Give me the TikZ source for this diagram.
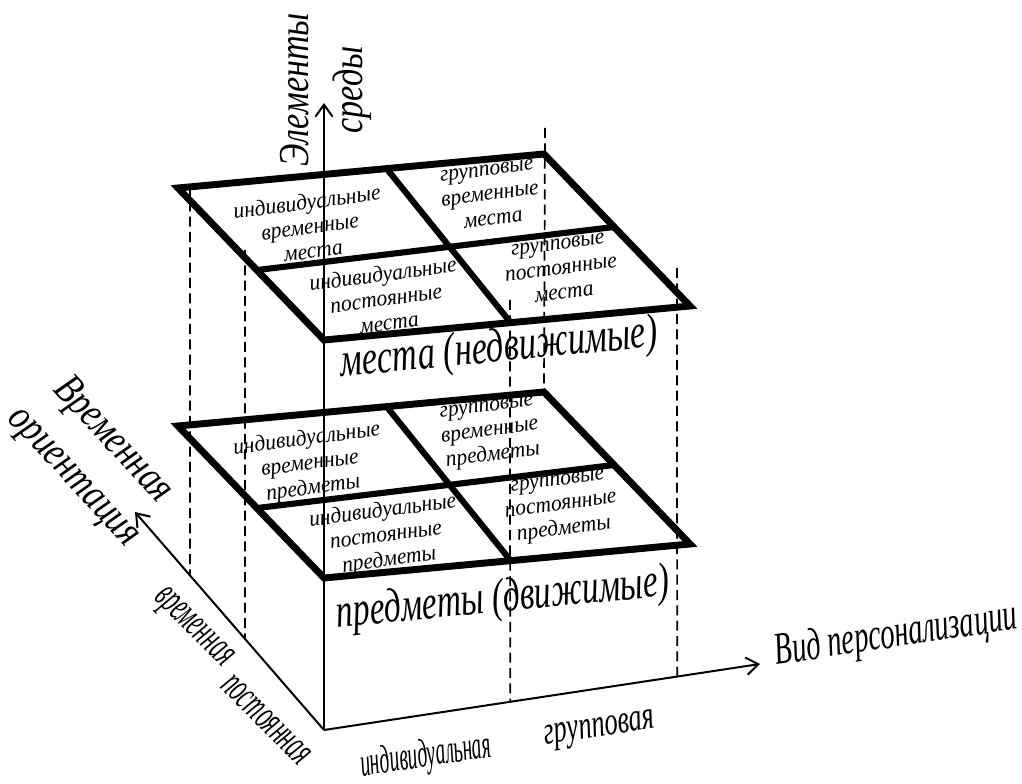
\documentclass[tikz,border=0pt]{standalone}
\usepackage{fontspec}
\usepackage{graphicx}
\setmainfont{Liberation Serif}
\newfontfamily\cellfont{Liberation Serif}[FakeStretch=0.95]
\newfontfamily\titlefont{Liberation Serif}[FakeStretch=0.8]
\usetikzlibrary{arrows.meta, calc}
\newcommand{\squeeze}[2]{\scalebox{#1}[1]{#2}}

\tikzset{
  axis/.style={line width=1.5pt, -{Straight Barb[length=9pt,width=13pt]}},
  slab/.style={line width=5.2pt, line join=miter},
  divider/.style={line width=4.6pt},
  guide/.style={line width=1.3pt, dash pattern=on 7.5pt off 4pt},
  cell/.style={font=\cellfont\itshape\fontsize{17}{18.5}\selectfont, align=center, rotate=7.5, inner sep=0pt},
  big label/.style={font=\itshape\fontsize{36}{40}\selectfont, inner sep=0pt, rotate=5.5},
  ax title/.style={font=\titlefont\itshape\fontsize{32}{40}\selectfont, align=center, inner sep=0pt},
  tick label/.style={font=\itshape\fontsize{30}{34}\selectfont, inner sep=0pt},
}

\begin{document}
\begin{tikzpicture}[x=0.75pt, y=-0.75pt]
    \useasboundingbox (0,0) rectangle (1022,784);

    \coordinate (O) at (324,730);
    \coordinate (X) at (760,664);
    \coordinate (Y) at (324,103);
    \coordinate (Z) at (135,512);

    % two layers: places and objects
    \foreach \s/\dy in {m/0, p/238} {
        \coordinate (F\s) at (324,{340+\dy});
        \coordinate (R\s) at ($(F\s)+(366,-34)$);
        \coordinate (L\s) at ($(F\s)+(-146,-152)$);
        \coordinate (B\s) at ($(R\s)+(-146,-152)$);
        \draw[slab] (F\s) -- (R\s) -- (B\s) -- (L\s) -- cycle;
        \draw[divider] ($(L\s)!0.57!(B\s)$) -- ($(F\s)!0.51!(R\s)$);
        \draw[divider] ($(F\s)!0.46!(L\s)$) -- ($(R\s)!0.52!(B\s)$);
    }

    % dashed guides down to the axes
    \foreach \n/\top/\t/\ax in {a/{190,186}/0.709/Z, b/{245,250}/0.418/Z,
                                c/{510,300}/0.427/X, d/{677,268}/0.81/X} {
        \coordinate (top\n) at (\top);
        \coordinate (foot\n) at ($(O)!\t!(\ax)$);
        \draw[guide] (top\n) -- (foot\n);
    }
    \coordinate (tope) at (545,128);
    \draw[guide] (tope) -- (Bp);

    \draw[axis] (O) -- (X);
    \draw[axis] (O) -- (Y);
    \draw[axis] (O) -- (Z);

    \foreach \s/\dy/\thing in {m/0/места, p/238/предметы} {
        \node[cell] (iv\s) at (310,{226+\dy}) {индивидуальные\\временные\\\thing};
        \node[cell] (gv\s) at (490,{195+\dy}) {групповые\\временные\\\thing};
        \node[cell] (ip\s) at (386,{298+\dy}) {индивидуальные\\постоянные\\\thing};
        \node[cell] (gp\s) at (561,{269+\dy}) {групповые\\постоянные\\\thing};
    }

    \node[big label] (mlab) at (499,350) {\squeeze{0.72}{места (недвижимые)}};
    \node[big label] (plab) at (503,600) {\squeeze{0.7}{предметы (движимые)}};

    \node[ax title, rotate=90] (ylab) at (326,90) {Элементы\\среды};
    \node[ax title, rotate=-47] (zlab) at (93,459) {Временная\\ориентация};

    \node[tick label, font=\itshape\fontsize{34}{36}\selectfont, rotate=8.5] (xlab)
        at (896,636) {\squeeze{0.63}{Вид персонализации}};
    \node[tick label, rotate=8.5] (ind) at (426,757) {\squeeze{0.49}{индивидуальная}};
    \node[tick label, rotate=8.5] (grp) at (600,731) {\squeeze{0.66}{групповая}};
    \node[tick label, font=\itshape\fontsize{32}{34}\selectfont, rotate=-45] (tmp)
        at (192,629) {\squeeze{0.52}{временная}};
    \node[tick label, font=\itshape\fontsize{32}{34}\selectfont, rotate=-45] (pst)
        at (266,720) {\squeeze{0.52}{постоянная}};

\end{tikzpicture}
\end{document}
